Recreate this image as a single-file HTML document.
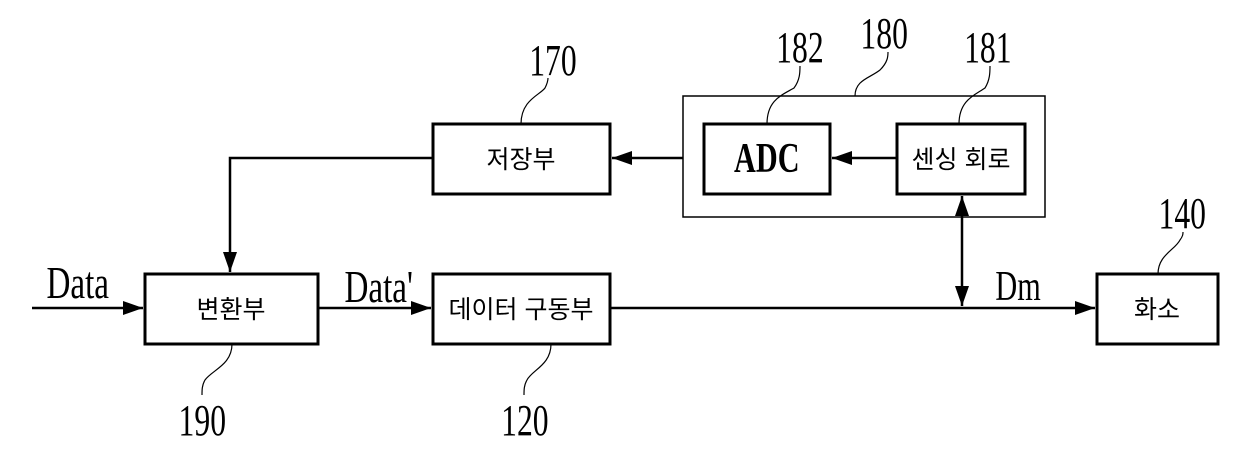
<!DOCTYPE html>
<html><head><meta charset="utf-8"><style>
html,body{margin:0;padding:0;background:#fff;}
svg text{font-family:"Liberation Serif","Noto Serif CJK SC",serif;fill:#000;}
.k{font-family:"Liberation Sans","Noto Sans CJK KR",sans-serif;font-size:25px;}
</style></head><body>
<svg width="1240" height="457" viewBox="0 0 1240 457" xmlns="http://www.w3.org/2000/svg">
<defs><marker id="a" markerWidth="20" markerHeight="14" refX="20" refY="7" orient="auto-start-reverse" markerUnits="userSpaceOnUse"><path d="M0,0 L20,7 L0,14z" fill="#000"/></marker></defs>
<g fill="none" stroke="#000" stroke-width="3">
<rect x="433" y="124" width="177" height="70"/>
<rect x="704" y="124" width="126" height="70"/>
<rect x="897" y="124" width="128" height="70"/>
<rect x="145" y="274" width="173" height="70"/>
<rect x="433" y="274" width="177" height="70"/>
<rect x="1097" y="274" width="121" height="70"/>
</g>
<rect x="683" y="96" width="362" height="121" fill="none" stroke="#000" stroke-width="1.5"/>
<g fill="none" stroke="#000" stroke-width="2.5">
<path d="M433,158 H230 V272" marker-end="url(#a)"/>
<path d="M683,158 H612" marker-end="url(#a)"/>
<path d="M897,158 H832" marker-end="url(#a)"/>
<path d="M32,308 H143" marker-end="url(#a)"/>
<path d="M318,308 H431" marker-end="url(#a)"/>
<path d="M610,308 H1095" marker-end="url(#a)"/>
<path d="M962,196 V306" marker-start="url(#a)" marker-end="url(#a)"/>
</g>
<g fill="none" stroke="#000" stroke-width="1.2">
<path d="M521,124 C521,100 540,95 545,88 C548,82 548,80 548,78"/>
<path d="M767,124 C767,100 782,95 794,88 C800,80 800,72 800,66"/>
<path d="M855,96 C855,80 870,78 880,70 C888,62 888,56 888,52"/>
<path d="M959,124 C959,100 975,95 985,88 C990,80 990,72 990,66"/>
<path d="M1158,274 C1158,255 1175,250 1180,240 C1183,236 1183,234 1183,232"/>
<path d="M232,344 C232,365 212,370 205,380 C202,385 202,390 202,395"/>
<path d="M551,344 C551,365 532,370 527,380 C524,385 524,390 524,395"/>
</g>
<g font-size="44" transform="scale(0.72,1)" text-anchor="middle">
<text x="768" y="75">170</text>
<text x="1111" y="62">182</text>
<text x="1228" y="48">180</text>
<text x="1372" y="62">181</text>
<text x="1642" y="228">140</text>
<text x="281" y="435">190</text>
<text x="729" y="435">120</text>
<text x="108" y="298" font-size="46">Data</text>
<text x="526" y="302" font-size="46">Data'</text>
<text x="1414" y="300" font-size="42">Dm</text>
<text x="1065" y="172" font-size="42" font-weight="bold">ADC</text>
</g>
<text class="k" x="521" y="168" text-anchor="middle">저장부</text>
<text class="k" x="961" y="168" text-anchor="middle">센싱 회로</text>
<text class="k" x="231" y="318" text-anchor="middle">변환부</text>
<text class="k" x="521" y="318" text-anchor="middle">데이터 구동부</text>
<text class="k" x="1157" y="318" text-anchor="middle">화소</text>
</svg>
</body></html>
